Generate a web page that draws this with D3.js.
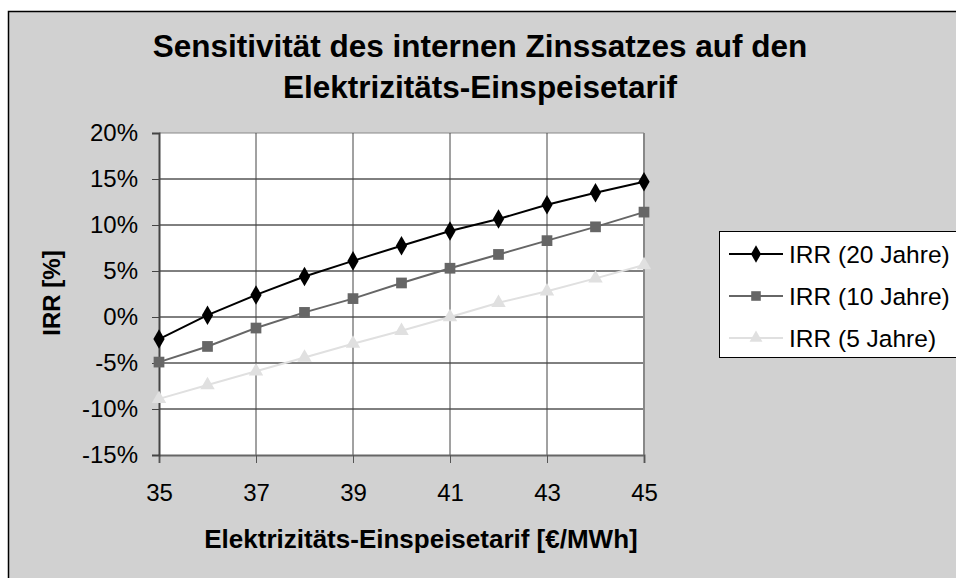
<!DOCTYPE html>
<html>
<head>
<meta charset="utf-8">
<script src="https://cdn.jsdelivr.net/npm/d3@7"></script>
<style>
  body { margin: 0; background: #fff; }
  text { font-family: "Liberation Sans", Arial, sans-serif; }
</style>
</head>
<body>
<div id="chart"></div>
<script>
// data
var tarif = [35, 36, 37, 38, 39, 40, 41, 42, 43, 44, 45];
var irr20 = [-2.4, 0.2, 2.4, 4.4, 6.1, 7.75, 9.35, 10.65, 12.2, 13.5, 14.7];
var irr10 = [-4.9, -3.2, -1.2, 0.5, 2.0, 3.7, 5.3, 6.8, 8.3, 9.8, 11.4];
var irr5 = [-8.9, -7.4, -5.9, -4.4, -2.9, -1.5, 0.0, 1.55, 2.8, 4.2, 5.65];
var seriesNames = ["IRR (20 Jahre)", "IRR (10 Jahre)", "IRR (5 Jahre)"];
var xTicks = [35, 37, 39, 41, 43, 45];
var yTicks = [-15, -10, -5, 0, 5, 10, 15, 20];

var W = 956, H = 578;
var margin = { top: 133, left: 159, right: 312, bottom: 123 };
var width = W - margin.left - margin.right,
    height = H - margin.top - margin.bottom;

var svg = d3.select("#chart").append("svg")
    .attr("width", W)
    .attr("height", H);

// outer chart frame
svg.append("rect")
    .attr("x", 8.5).attr("y", 11.5)
    .attr("width", W + 10).attr("height", H)
    .attr("fill", "#d1d1d1")
    .attr("stroke", "#000")
    .attr("stroke-width", 1.5);

var x = d3.scaleLinear().domain([35, 45]).range([0, width]);
var y = d3.scaleLinear().domain([-15, 20]).range([height, 0]);

var g = svg.append("g")
    .attr("transform", "translate(" + margin.left + "," + margin.top + ")");

g.append("rect")
    .attr("width", width).attr("height", height)
    .attr("fill", "#fff");

// grid
g.append("g").selectAll("line")
    .data(yTicks.slice(1))
    .enter().append("line")
    .attr("x1", 0).attr("x2", width)
    .attr("y1", function(d) { return y(d); })
    .attr("y2", function(d) { return y(d); })
    .attr("stroke", d => d == 20 ? "#888" : "#000")
    .attr("stroke-width", 1);

g.append("g").selectAll("line")
    .data(xTicks.slice(1, -1))
    .enter().append("line")
    .attr("x1", function(d) { return x(d); })
    .attr("x2", function(d) { return x(d); })
    .attr("y1", 0).attr("y2", height)
    .attr("stroke", "#444")
    .attr("stroke-width", 1);

// right border of the plot area
g.append("line")
    .attr("x1", width).attr("x2", width)
    .attr("y1", 0).attr("y2", height)
    .attr("stroke", "#888").attr("stroke-width", 2);

var xAxis = d3.axisBottom(x).tickValues(xTicks).tickSize(8).tickPadding(21)
    .tickFormat(d3.format("d"));
var yAxis = d3.axisLeft(y).tickValues(yTicks).tickSize(7).tickPadding(14)
    .tickFormat(function(d) { return d + "%"; });

var gx = g.append("g")
    .attr("transform", "translate(0," + height + ")")
    .call(xAxis);
gx.select(".domain").attr("stroke", "#666").attr("stroke-width", 2);
gx.selectAll(".tick line").attr("stroke", "#555");
gx.selectAll("text").attr("font-size", 24).attr("fill", "#000")
    .attr("font-family", "Liberation Sans, Arial, sans-serif");

var gy = g.append("g").call(yAxis);
gy.select(".domain").attr("stroke", "#444").attr("stroke-width", 2);
gy.selectAll(".tick line").attr("stroke", "#444");
gy.selectAll("text").attr("font-size", 24).attr("fill", "#000")
    .attr("font-family", "Liberation Sans, Arial, sans-serif");

// series
var series = [
    { name: seriesNames[0], values: irr20, color: "#000", symbol: d3.symbolDiamond, size: 110 },
    { name: seriesNames[1], values: irr10, color: "#666", symbol: d3.symbolSquare, size: 115 },
    { name: seriesNames[2], values: irr5, color: "#e0e0e0", symbol: d3.symbolTriangle, size: 90 }
];

var line = d3.line()
    .x(function(d, i) { return x(tarif[i]); })
    .y(function(d) { return y(d); });

series.slice().reverse().forEach(function(s) {
    g.append("path")
        .datum(s.values)
        .attr("d", line)
        .attr("fill", "none")
        .attr("stroke", s.color)
        .attr("stroke-width", 2);
    g.append("g").selectAll("path")
        .data(s.values)
        .enter().append("path")
        .attr("transform", function(d, i) { return "translate(" + x(tarif[i]) + "," + y(d) + ")"; })
        .attr("d", d3.symbol().type(s.symbol).size(s.size))
        .attr("fill", s.color);
});

// titles
var title = svg.append("text")
    .attr("x", 480).attr("y", 57)
    .attr("text-anchor", "middle")
    .attr("font-size", 31.5).attr("font-weight", "bold");
title.append("tspan").attr("x", 480).text("Sensitivität des internen Zinssatzes auf den");
title.append("tspan").attr("x", 480).attr("dy", 41).text("Elektrizitäts-Einspeisetarif");

svg.append("text")
    .attr("x", 421).attr("y", 548)
    .attr("text-anchor", "middle")
    .attr("font-size", 26).attr("font-weight", "bold")
    .text("Elektrizitäts-Einspeisetarif [€/MWh]");

svg.append("text")
    .attr("transform", "translate(60,293) rotate(-90)")
    .attr("text-anchor", "middle")
    .attr("font-size", 24).attr("font-weight", "bold")
    .text("IRR [%]");

// legend
var legend = svg.append("g").attr("transform", "translate(719,231)");
legend.append("rect")
    .attr("x", 0.5).attr("y", 0.5)
    .attr("width", 260).attr("height", 126)
    .attr("fill", "#fff").attr("stroke", "#000").attr("stroke-width", 1);

series.forEach(function(s, i) {
    var ly = 23 + i * 42;
    legend.append("line")
        .attr("x1", 10).attr("x2", 64)
        .attr("y1", ly).attr("y2", ly)
        .attr("stroke", s.color).attr("stroke-width", 2);
    legend.append("path")
        .attr("transform", "translate(37," + ly + ")")
        .attr("d", d3.symbol().type(s.symbol).size(s.size * 0.8))
        .attr("fill", s.color);
    legend.append("text")
        .attr("x", 70).attr("y", ly)
        .attr("dy", "0.35em")
        .attr("font-size", 24.5)
        .text(s.name);
});
</script>
</body>
</html>
